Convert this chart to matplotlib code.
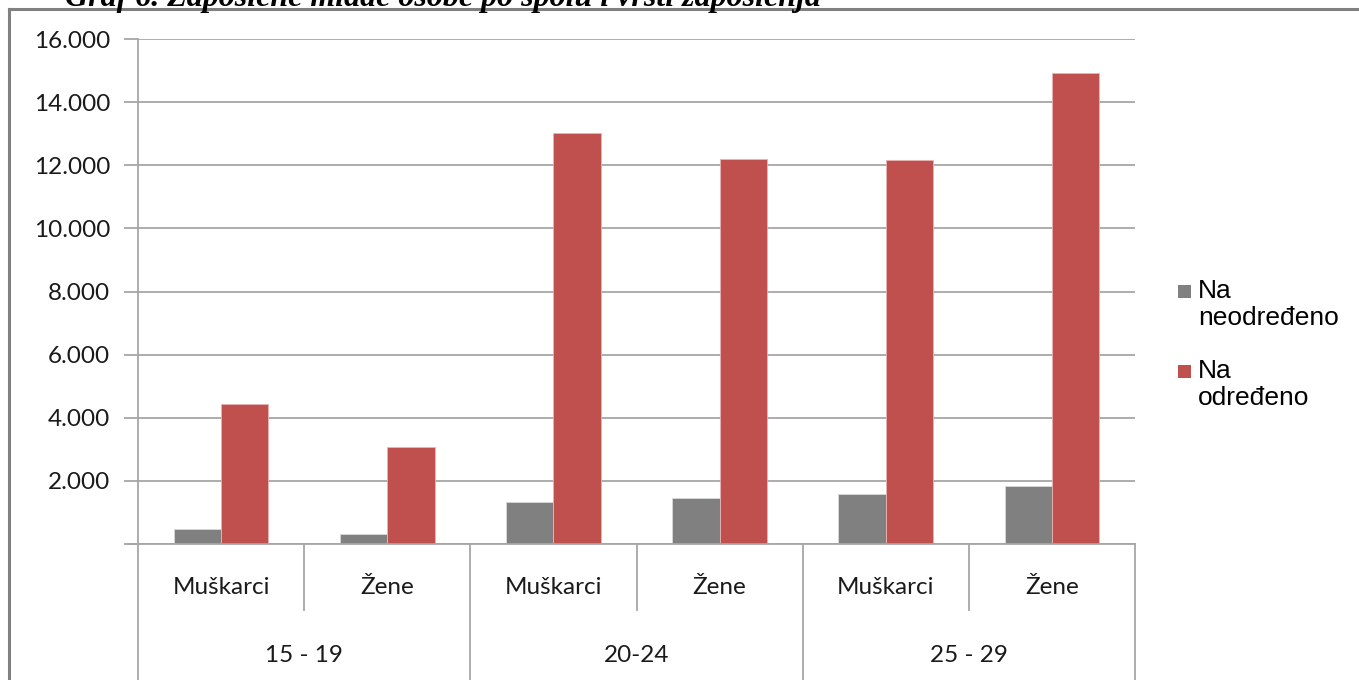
import matplotlib
matplotlib.use("Agg")
import matplotlib.pyplot as plt
from matplotlib.patches import Rectangle
from matplotlib.lines import Line2D
import numpy as np

# ---- data ----
groups = ["15 - 19", "20-24", "25 - 29"]
sexes = ["Muškarci", "Žene"]
series_names = ["Na\nneodređeno", "Na\nodređeno"]
na_neodredjeno = [490, 330, 1340, 1465, 1590, 1830]
na_odredjeno = [4450, 3080, 13020, 12200, 12160, 14920]
yticks = [0, 2000, 4000, 6000, 8000, 10000, 12000, 14000, 16000]
ytick_labels = ["", "2.000", "4.000", "6.000", "8.000", "10.000", "12.000", "14.000", "16.000"]
title = "Graf 6. Zaposlene mlade osobe po spolu i vrsti zaposlenja"

colors = ["#808080", "#C0504D"]
grid_c = "#A6A6A6"
lab_font = "Lato"
lab_size = 17.5

W, H = 1359, 680
fig = plt.figure(figsize=(W / 100, H / 100), dpi=100)
fig.patch.set_facecolor("white")

def fx(px):
    return px / W

def fy(py):
    return 1 - py / H

ax = fig.add_axes([fx(138), fy(544), fx(1135) - fx(138), fy(39) - fy(544)])

n = len(na_neodredjeno)
x = np.arange(n)
bw = 0.285
ax.bar(x - bw / 2, na_neodredjeno, width=bw, color=colors[0], edgecolor="#d9d9d9", linewidth=0.6, zorder=3)
ax.bar(x + bw / 2, na_odredjeno, width=bw, color=colors[1], edgecolor="#e8b4b3", linewidth=0.6, zorder=3)

ax.set_xlim(-0.5, n - 0.5)
ax.set_ylim(0, 16000)
ax.set_yticks(yticks)
ax.set_yticklabels(ytick_labels, fontfamily=lab_font, fontsize=lab_size, color="#1a1a1a")
ax.tick_params(axis="y", length=10, width=1.3, color=grid_c, pad=10)
ax.set_xticks([])
ax.yaxis.grid(True, color=grid_c, linewidth=1.3, zorder=0)
for s in ["top", "right"]:
    ax.spines[s].set_visible(False)
for s in ["left", "bottom"]:
    ax.spines[s].set_color(grid_c)
    ax.spines[s].set_linewidth(1.3)
ax.spines["bottom"].set_zorder(4)

trans = ax.get_xaxis_transform()
ax.add_line(Line2D([-0.5 - 10 / 166, -0.5], [0, 0], transform=trans, color=grid_c, lw=1.3, clip_on=False))

# hierarchical category separators and labels
ax_h = 544 - 39
inner_bot = -(610 - 544) / ax_h
outer_bot = -(680 - 544) / ax_h
for i in range(n + 1):
    xb = i - 0.5
    yb = outer_bot - 0.01 if i % 2 == 0 else inner_bot
    ax.add_line(Line2D([xb, xb], [0, yb], transform=trans, color=grid_c, lw=1.3, clip_on=False))

for i in range(n):
    ax.text(i, -(587 - 544) / ax_h, sexes[i % 2], transform=trans, ha="center", va="center",
            fontfamily=lab_font, fontsize=lab_size, color="#1a1a1a")
for g, name in enumerate(groups):
    ax.text(2 * g + 0.5, -(655 - 544) / ax_h, name, transform=trans, ha="center", va="center",
            fontfamily=lab_font, fontsize=lab_size, color="#1a1a1a")

# legend (manual, marker aligned with first line)
leg_y = [292, 372]
for c, name, py in zip(colors, series_names, leg_y):
    fig.patches.append(Rectangle((fx(1178), fy(py + 6)), fx(13), 13 / H, transform=fig.transFigure,
                                 facecolor=c, edgecolor="none"))
    fig.text(fx(1198), fy(py - 13), name, ha="left", va="top", fontfamily="Liberation Sans",
             fontsize=19, color="black", linespacing=1.15)

# outer frame (left and top)
fig.add_artist(Line2D([fx(9), fx(9)], [fy(9), 0], transform=fig.transFigure, color="#808080", lw=2.2))
fig.add_artist(Line2D([fx(9), 1], [fy(9), fy(9)], transform=fig.transFigure, color="#808080", lw=2.2))

# title, clipped at the top edge as in the source image
fig.text(fx(65), fy(6), title, ha="left", va="baseline", fontfamily="Liberation Serif",
         fontweight="bold", fontstyle="italic", fontsize=23, color="black")

fig.savefig("out.png", dpi=100, facecolor="white")
